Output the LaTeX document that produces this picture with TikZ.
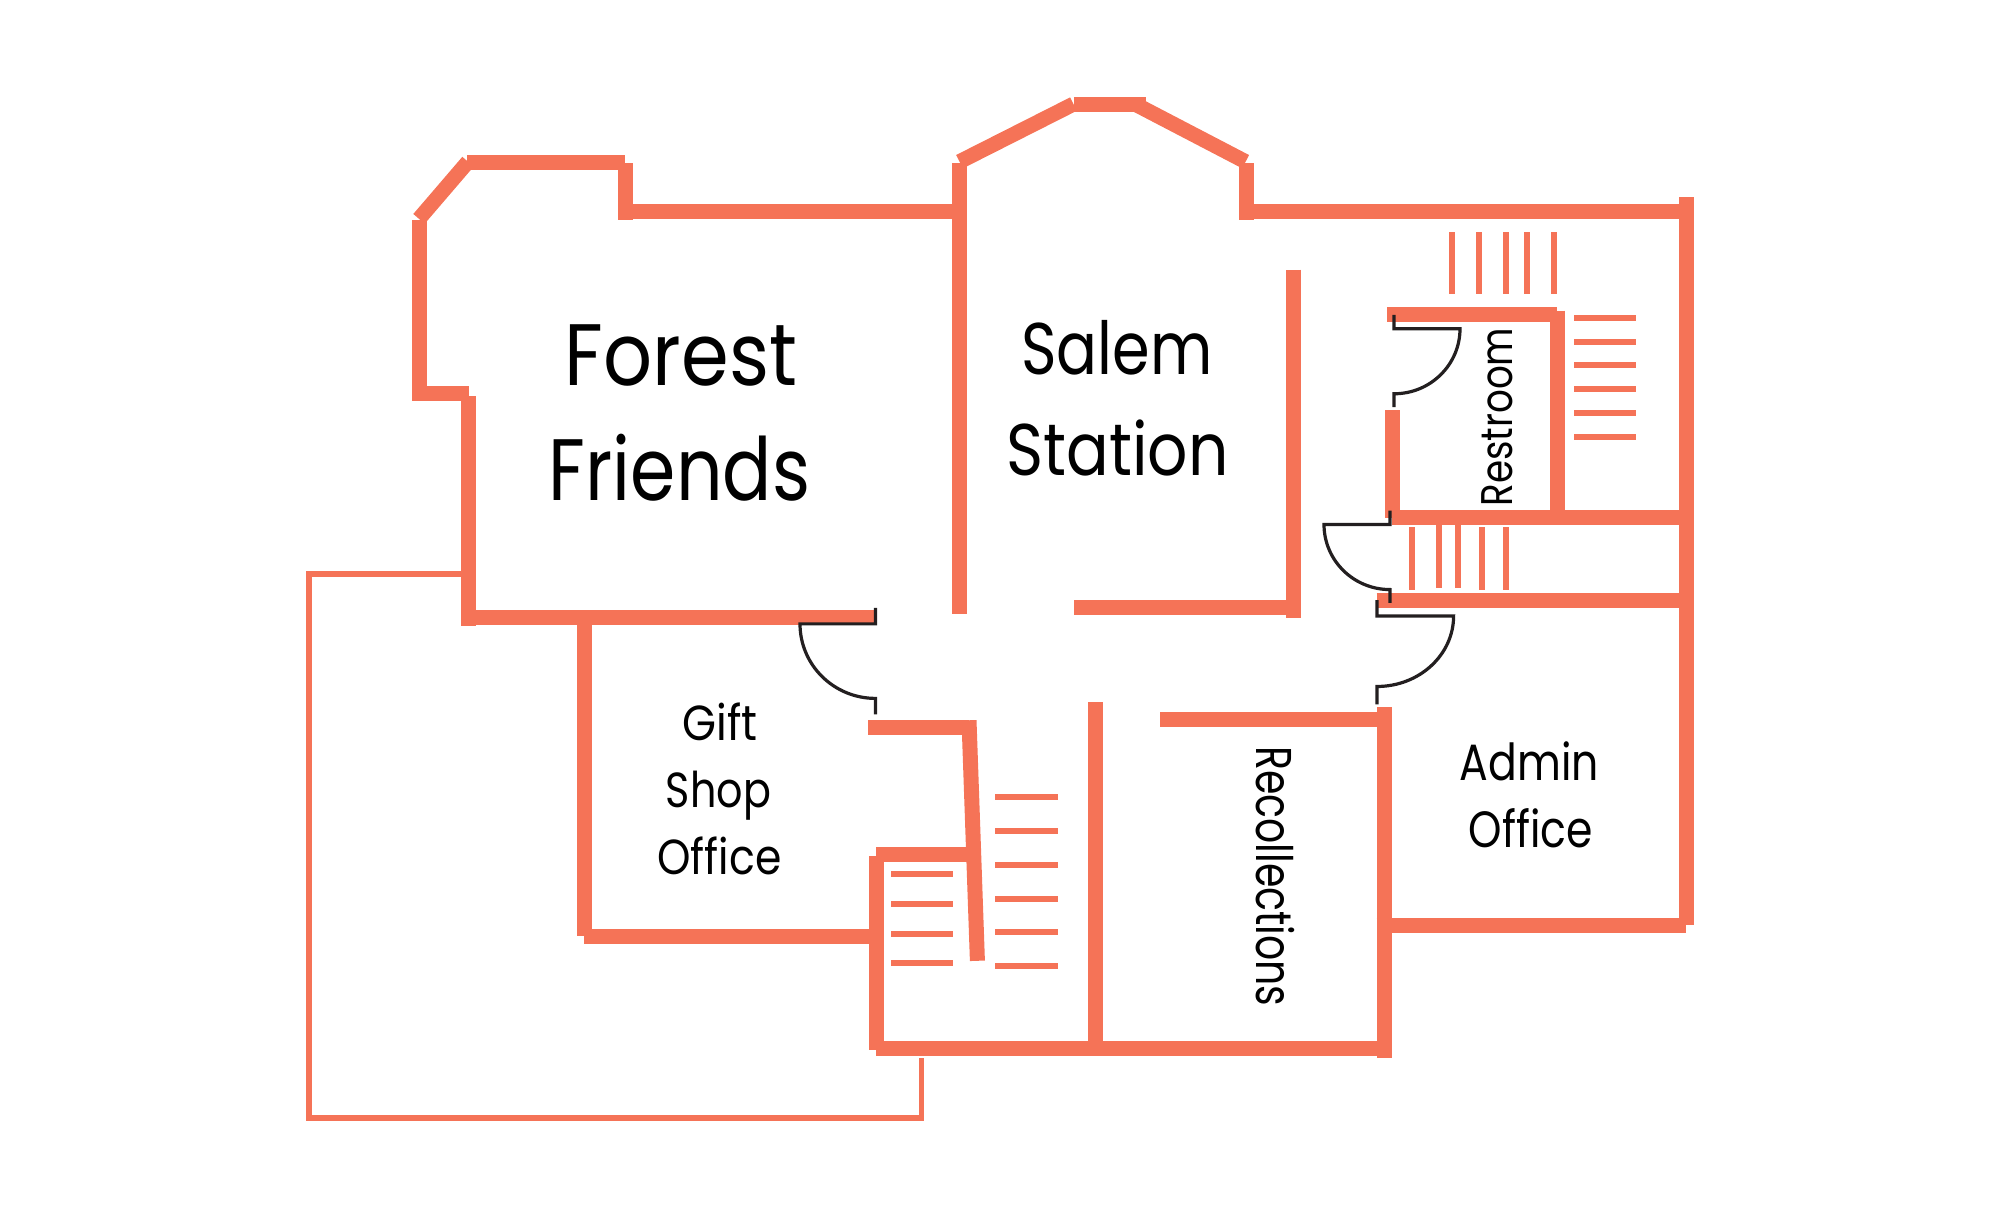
\documentclass[tikz,border=0pt]{standalone}
\usepackage{fontspec}
\usepackage{graphicx}
\setmainfont{Poppins}
\newlength\pxu \setlength\pxu{0.28453pt}
\newcommand\fitlabel[3]{\fontsize{#1}{#1}\selectfont\resizebox{#2\pxu}{\height}{#3}}
\definecolor{wallc}{HTML}{F57357}
\definecolor{doorc}{HTML}{231F20}
\tikzset{
  wall/.style={draw=wallc,line width=15\pxu,line cap=butt},
  tread/.style={draw=wallc,line width=6\pxu,line cap=butt},
  fence/.style={draw=wallc,line width=5.5\pxu,line cap=butt,line join=miter},
  door/.style={draw=doorc,line width=3.2\pxu,line cap=butt,line join=miter},
  roomlabel/.style={inner sep=0pt,outer sep=0pt,anchor=base,text=black}
}
\begin{document}
\begin{tikzpicture}[x=0.01cm,y=-0.009932cm]
\useasboundingbox (0,-1.71) rectangle (2000,1220.6);
% fence
\draw[fence] (461,576) -- (309,576) -- (309,1123) -- (921.5,1123) -- (921.5,1063);
% walls
\draw[wall] (419,219.6) -- (419,401.5);
\draw[wall] (419,218.5) -- (468,161);
\draw[wall] (413,394) -- (469,394);
\draw[wall] (468,397) -- (468,628);
\draw[wall] (467,162) -- (625,162);
\draw[wall] (625,162.7) -- (625,220);
\draw[wall] (625,211.5) -- (953,211.5);
\draw[wall] (959.5,162.7) -- (959.5,616.5);
\draw[wall] (469,619.6) -- (875,619.6);
\draw[wall] (584.4,619.6) -- (584.4,940);
\draw[wall] (584,940.5) -- (869,940.5);
\draw[wall] (876,860) -- (876,1055);
\draw[wall] (876,858) -- (969,858);
\draw[wall] (868,730) -- (969,730);
\draw[wall] (969,723) -- (977.4,965);
\draw[wall] (959.5,161) -- (1073.5,103);
\draw[wall] (1074,103) -- (1146,103);
\draw[wall] (1135,103) -- (1245.6,161);
\draw[wall] (1246,162.7) -- (1246,220);
\draw[wall] (1246,211.5) -- (1680,211.5);
\draw[wall] (1686,197) -- (1686,929);
\draw[wall] (1293,269.6) -- (1293,619.6);
\draw[wall] (1074,610) -- (1301,610);
\draw[wall] (1387,315) -- (1557,315);
\draw[wall] (1557,310.8) -- (1557,514);
\draw[wall] (1392,411) -- (1392,519.6);
\draw[wall] (1392,519) -- (1680,519);
\draw[wall] (1376.5,602.3) -- (1680,602.3);
\draw[wall] (1095,705) -- (1095,1050);
\draw[wall] (1160,722) -- (1377,722);
\draw[wall] (1384,710) -- (1384,1063);
\draw[wall] (1376.5,929.5) -- (1686,929.5);
\draw[wall] (876,1053.7) -- (1376.5,1053.7);
% doors
\draw[door] (1394,315) -- (1394,329) -- (1460,329) arc[start angle=0,end angle=90,x radius=66,y radius=65.5] -- (1394,408);
\draw[door] (1390,512) -- (1390,526) -- (1324,526) arc[start angle=180,end angle=90,x radius=66,y radius=65.5] -- (1390,605);
\draw[door] (1377,602) -- (1377,618) -- (1453.6,618) arc[start angle=0,end angle=90,x radius=76.6,y radius=71] -- (1377,707);
\draw[door] (875.5,610) -- (875.5,626) -- (800,626) arc[start angle=180,end angle=90,x radius=75.5,y radius=75] -- (875.5,717);
% stairs
\foreach \x in {1452,1479,1505.5,1527,1554} \draw[tread] (\x,232) -- (\x,294.6);
\foreach \y in {318,342,366,389.6,414,437.7} \draw[tread] (1574,\y) -- (1636,\y);
\foreach \x in {1412,1482,1505.5} \draw[tread] (\x,529) -- (\x,592);
\foreach \x in {1439,1458} \draw[tread] (\x,527) -- (\x,590);
\foreach \y in {878,908,938,967} \draw[tread] (891,\y) -- (953,\y);
\foreach \y in {800,834.6,869,902.5,936,970} \draw[tread] (995,\y) -- (1058,\y);
% labels
\node[roomlabel] (forest) at (681,386.5) {\fitlabel{24.8}{232}{Forest}};
\node[roomlabel] (friends) at (679.5,501.5) {\fitlabel{24.8}{261}{Friends}};
\node[roomlabel] (salem) at (1117,375) {\fitlabel{20.8}{191}{Salem}};
\node[roomlabel] (station) at (1117.5,476.5) {\fitlabel{20.8}{222}{Station}};
\node[roomlabel] (gift) at (720,743.5) {\fitlabel{14}{75}{Gift}};
\node[roomlabel] (shop) at (718.5,810.5) {\fitlabel{14}{105}{Shop}};
\node[roomlabel] (giftoffice) at (719.5,878.5) {\fitlabel{14}{124}{Office}};
\node[roomlabel] (admin) at (1529.5,783.5) {\fitlabel{14.5}{139}{Admin}};
\node[roomlabel] (adminoffice) at (1531,851.5) {\fitlabel{14.5}{124}{Office}};
\node[roomlabel,rotate=90] (restroom) at (1512,418) {\fitlabel{12.6}{179}{Restroom}};
\node[roomlabel,rotate=-90] (recollections) at (1256,880) {\fitlabel{14.3}{260}{Recollections}};
\end{tikzpicture}
\end{document}
